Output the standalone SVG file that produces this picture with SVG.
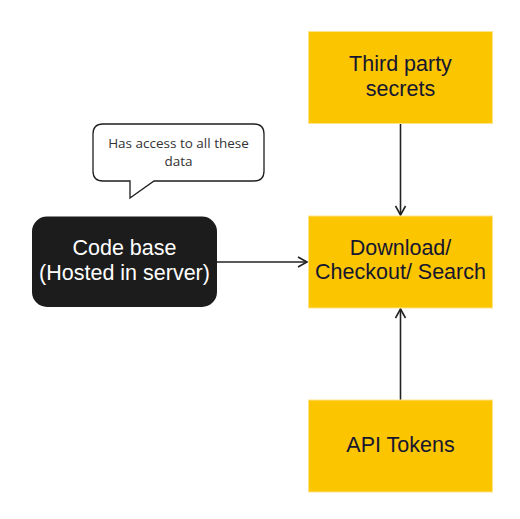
<svg xmlns="http://www.w3.org/2000/svg" width="520" height="519" viewBox="0 0 520 519">
<defs>
<style>
.y{fill:#fbc500;stroke:#fde38a;stroke-width:1}
.t{font-family:"Liberation Sans",Arial,sans-serif;font-size:21.5px;fill:#161630;text-anchor:middle}
.w{fill:#ffffff}
.c{font-family:"Open Sans","Noto Sans",sans-serif;font-size:13.5px;fill:#333333;text-anchor:middle}
.l{stroke:#222222;stroke-width:1.6;fill:none}
</style>
<marker id="ah" markerWidth="12" markerHeight="12" refX="10" refY="6" orient="auto" markerUnits="userSpaceOnUse">
<path d="M1,1 L10,6 L1,11" fill="none" stroke="#222222" stroke-width="1.6"/>
</marker>
</defs>
<rect width="520" height="519" fill="#ffffff"/>
<g id="connectors">
<line class="l" x1="217" y1="262" x2="307" y2="262" marker-end="url(#ah)"/>
<line class="l" x1="400.5" y1="123" x2="400.5" y2="215" marker-end="url(#ah)"/>
<line class="l" x1="400.5" y1="400" x2="400.5" y2="309" marker-end="url(#ah)"/>
</g>
<g id="callout">
<path d="M103,124 H254 Q264,124 264,134 V171 Q264,181 254,181 H154 L130,198 V181 H103 Q93,181 93,171 V134 Q93,124 103,124 Z" fill="#ffffff" stroke="#1e1e1e" stroke-width="1.3"/>
<text class="c" x="178.5" y="147.5">Has access to all these</text>
<text class="c" x="178.5" y="166">data</text>
</g>
<g id="codebase">
<rect x="32" y="216.5" width="185" height="90.5" rx="15" fill="#1c1c1c"/>
<text class="t w" x="124.5" y="255">Code base</text>
<text class="t w" x="124.5" y="280">(Hosted in server)</text>
</g>
<g id="thirdparty">
<rect class="y" x="308.5" y="31.5" width="184" height="92"/>
<text class="t" x="400.5" y="71">Third party</text>
<text class="t" x="400.5" y="96">secrets</text>
</g>
<g id="download">
<rect class="y" x="308.5" y="216" width="184" height="92"/>
<text class="t" x="400.5" y="255">Download/</text>
<text class="t" x="400.5" y="279">Checkout/ Search</text>
</g>
<g id="apitokens">
<rect class="y" x="308.5" y="400" width="184" height="92"/>
<text class="t" x="400.5" y="452">API Tokens</text>
</g>
</svg>
